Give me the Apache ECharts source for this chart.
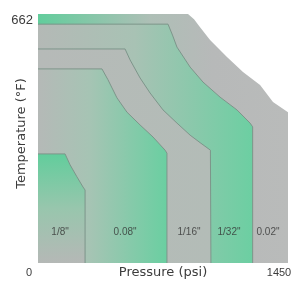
<!DOCTYPE html>
<html>
<head>
    <meta charset="utf-8">
    <title>Orifice chart</title>
    <style>
        html, body { margin: 0; padding: 0; background: #fff; }
        #main { width: 294px; height: 281px; }
    </style>
</head>
<body>
<div id="main"></div>
<script src="https://cdn.jsdelivr.net/npm/echarts@6/dist/echarts.min.js"></script>
<script type="text/javascript">
    // outline of every orifice zone: [pressure psi, temperature F]
    var edge002 = [[0, 662], [870, 662], [905, 648], [940, 627], [998, 593], [1096, 548], [1189, 508], [1288, 473], [1363, 428], [1450, 401], [1450, 0]];
    var edge132 = [[0, 635], [754, 635], [780, 606], [806, 574], [882, 521], [957, 481], [1056, 441], [1154, 407], [1230, 372], [1245, 362], [1245, 0]];
    var edge116 = [[0, 569], [505, 569], [534, 540], [592, 492], [650, 452], [725, 407], [806, 372], [882, 340], [940, 320], [1000, 300], [1003, 0]];
    var edge008 = [[0, 516], [371, 516], [406, 487], [458, 439], [516, 401], [592, 367], [667, 335], [737, 300], [748, 292], [748, 0]];
    var edge18 = [[0, 290], [157, 290], [186, 261], [226, 229], [261, 202], [273, 194], [273, 0]];

    var sizeNames = ['1/8"', '0.08"', '1/16"', '1/32"', '0.02"'];
    var namePressure = [128, 505, 876, 1108, 1334];
    var nameTemp = 82;

    var xTicks = [0, 1450];
    var yTicks = [662];

    var green = '#62cd9c';
    var gray = '#b7b9b9';
    var edgeColor = '#7d958a';

    function grad(x2, y2, stops) {
        return new echarts.graphic.LinearGradient(0, 0, x2, y2, stops);
    }

    function zone(data, fill, z, lineWidth) {
        return {
            type: 'line',
            data: data,
            z: z,
            silent: true,
            smooth: false,
            showSymbol: false,
            symbol: 'none',
            lineStyle: { color: edgeColor, width: lineWidth },
            areaStyle: { color: fill, opacity: 1 }
        };
    }

    var chart = echarts.init(document.getElementById('main'));
    chart.setOption({
        animation: false,
        backgroundColor: '#fff',
        grid: { left: 38, right: 6, top: 14, bottom: 18, containLabel: false, outerBoundsMode: 'none' },
        xAxis: {
            type: 'value',
            min: 0,
            max: 1450,
            name: 'Pressure (psi)',
            nameLocation: 'middle',
            nameGap: 3,
            nameMoveOverlap: false,
            nameTextStyle: { color: '#3c3c3c', fontSize: 13, fontFamily: 'DejaVu Sans', verticalAlign: 'top' },
            axisLine: { show: false },
            axisTick: { show: false },
            splitLine: { show: false },
            axisLabel: {
                customValues: xTicks,
                formatter: function (v) { return String(v); },
                margin: 4,
                color: '#3c3c3c',
                fontSize: 11,
                fontFamily: 'Liberation Sans',
                padding: [0, 18, 0, 0]
            }
        },
        yAxis: {
            type: 'value',
            min: 0,
            max: 662,
            name: 'Temperature (°F)',
            nameLocation: 'middle',
            nameRotate: 90,
            nameGap: 10,
            nameMoveOverlap: false,
            nameTextStyle: { color: '#3c3c3c', fontSize: 13, fontFamily: 'DejaVu Sans', padding: [0, 0, 0, 10] },
            axisLine: { show: false },
            axisTick: { show: false },
            splitLine: { show: false },
            axisLabel: {
                customValues: yTicks,
                margin: 5,
                color: '#3c3c3c',
                fontSize: 13,
                fontFamily: 'Liberation Sans',
                verticalAlign: 'top'
            }
        },
        series: [
            zone(edge002, grad(1, 0, [{ offset: 0, color: green }, { offset: 0.45, color: '#aebfb6' }, { offset: 0.7, color: gray }, { offset: 1, color: '#b9bbba' }]), 1, 0),
            zone(edge132, grad(1, 0, [{ offset: 0, color: '#b4b9b6' }, { offset: 0.45, color: '#a8c2b4' }, { offset: 1, color: '#6ccfa2' }]), 2, 1),
            zone(edge116, grad(1, 0, [{ offset: 0, color: '#b6bab8' }, { offset: 1, color: '#b3bcb7' }]), 3, 1),
            zone(edge008, grad(1, 0, [{ offset: 0, color: '#b5b9b7' }, { offset: 0.4, color: '#a6c4b4' }, { offset: 1, color: '#6acfa1' }]), 4, 1),
            zone(edge18, grad(0, 1, [{ offset: 0, color: green }, { offset: 0.5, color: '#98c6ad' }, { offset: 1, color: '#b5b8b6' }]), 5, 1),
            {
                type: 'scatter',
                z: 10,
                silent: true,
                symbolSize: 0,
                data: sizeNames.map(function (n, i) {
                    return { name: n, value: [namePressure[i], nameTemp] };
                }),
                label: {
                    show: true,
                    position: 'inside',
                    formatter: '{b}',
                    color: '#333',
                    fontSize: 10,
                    fontFamily: 'Liberation Sans'
                }
            }
        ]
    });
</script>
</body>
</html>
